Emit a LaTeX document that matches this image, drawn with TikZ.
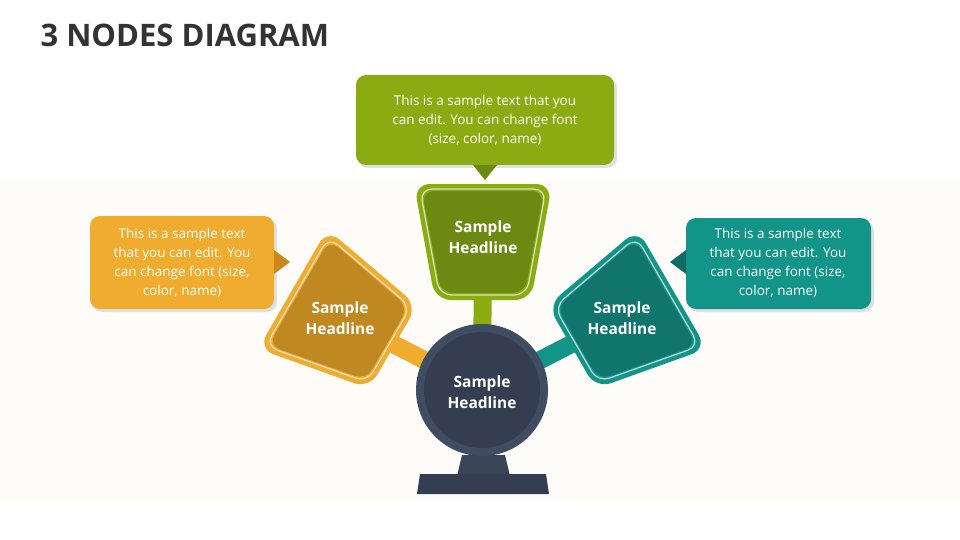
\documentclass[tikz,border=0pt]{standalone}
\usepackage{fontspec}
\setmainfont{Open Sans}
\definecolor{ttl}{HTML}{333333}
\definecolor{oout}{HTML}{F0AC2E}\definecolor{oin}{HTML}{C08820}\definecolor{odk}{HTML}{C88A1C}
\definecolor{gout}{HTML}{8AAC12}\definecolor{gin}{HTML}{6C8A12}\definecolor{gdk}{HTML}{6A8A10}
\definecolor{tout}{HTML}{139488}\definecolor{tin}{HTML}{10756C}\definecolor{tdk}{HTML}{0E6A62}
\definecolor{cout}{HTML}{3F4C61}\definecolor{cin}{HTML}{343E50}\definecolor{bas}{HTML}{3A4558}
\definecolor{bg}{HTML}{FDFCF8}
\newcommand\trapz[5]{%
\begin{scope}[shift={(#1,#2)},rotate=#3]
\fill[#4,rounded corners=16] (-69,-58)--(69,-58)--(48,58)--(-48,58)--cycle;
\fill[#5,rounded corners=12] (-61,-51)--(61,-51)--(42,51)--(-42,51)--cycle;
\draw[white!75!#5,line width=1.2,rounded corners=12] (-63,-53)--(63,-53)--(43.5,53)--(-43.5,53)--cycle;
\end{scope}}
\tikzset{hl/.style={text=white,font=\bfseries\fontsize{15.5}{21}\selectfont,align=center},
 ct/.style={text=white,font=\fontsize{13.5}{19}\selectfont,align=center},
 bar/.style={line width=18}}
\begin{document}
\begin{tikzpicture}[x=1pt,y=-1pt]
\useasboundingbox (0,0) rectangle (960,540);
\fill[white] (0,0) rectangle (960,540);
\fill[bg] (0,180) rectangle (960,500);
\node[anchor=west,text=ttl,font=\bfseries\fontsize{31}{35}\selectfont] (title) at (37,35) {3 NODES DIAGRAM};
\coordinate (c) at (482,390);
\coordinate (g) at (483,242);
\coordinate (o) at (343,318);
\coordinate (t) at (622,318);
\draw[bar,gout] (c)--(g);
\draw[bar,oout] (c)--(o);
\draw[bar,tout] (c)--(t);
\trapz{483}{242}{0}{gout}{gin}
\trapz{343}{318}{60}{oout}{oin}
\trapz{622}{318}{-60}{tout}{tin}
\fill[bas] (462,455)--(505,455)--(510,476)--(457,476)--cycle;
\fill[cin] (420,474)--(546,474)--(549,494)--(417,494)--cycle;
\fill[cout] (c) circle (66);
\fill[cin] (c) circle (58);
\node[hl] (hc) at (482,392) {Sample\\Headline};
\node[hl] (hg) at (483,237) {Sample\\Headline};
\node[hl] (ho) at (340,318) {Sample\\Headline};
\node[hl] (ht) at (622,318) {Sample\\Headline};
\fill[black!12,rounded corners=10] (358,78) rectangle (617,168);
\fill[gout,rounded corners=10] (356,75) rectangle (614,165);
\fill[gdk] (473,165)--(497,165)--(485,180)--cycle;
\node[ct] (cg) at (485,120) {This is a sample text that you\\can edit. You can change font\\(size, color, name)};
\fill[black!12,rounded corners=10] (92,219) rectangle (277,312);
\fill[oout,rounded corners=10] (90,216) rectangle (274,309);
\fill[odk] (274,250)--(274,274)--(290,262)--cycle;
\node[ct] (co) at (182,263) {This is a sample text\\that you can edit. You\\can change font (size,\\color, name)};
\fill[black!12,rounded corners=10] (688,221) rectangle (874,312);
\fill[tout,rounded corners=10] (686,218) rectangle (871,309);
\fill[tdk] (686,250)--(686,274)--(670,262)--cycle;
\node[ct] (cte) at (778,263) {This is a sample text\\that you can edit. You\\can change font (size,\\color, name)};
\end{tikzpicture}
\end{document}
